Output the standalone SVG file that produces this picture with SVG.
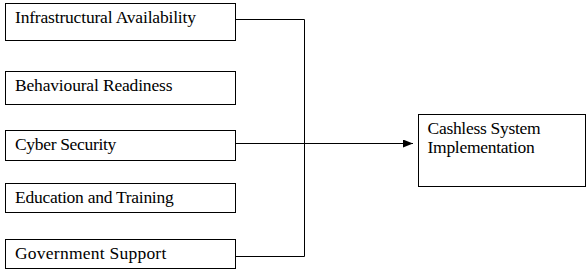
<svg xmlns="http://www.w3.org/2000/svg" width="587" height="272" viewBox="0 0 587 272">
<style>
.box{fill:#fff;stroke:#000;stroke-width:1}
.t{font-family:'Liberation Serif','Times New Roman','DejaVu Serif',serif;font-size:17.5px;fill:#000}
.c{fill:none;stroke:#000;stroke-width:1}
</style>
<defs>
<marker id="ah" markerWidth="10" markerHeight="8" refX="10" refY="4" orient="auto" markerUnits="userSpaceOnUse">
<path d="M0,0 L10,4 L0,8 Z" fill="#000"/>
</marker>
</defs>
<rect width="587" height="272" fill="#fff"/>
<g id="connectors">
<path class="c" d="M235,19.5 H304.5 V256.5 H235"/>
<path class="c" d="M235,143.5 H413" marker-end="url(#ah)"/>
</g>
<g id="n1"><rect class="box" x="5.5" y="3.5" width="230" height="37"/><text class="t" x="15" y="23" textLength="181" lengthAdjust="spacing">Infrastructural  Availability</text></g>
<g id="n2"><rect class="box" x="5.5" y="71.5" width="230" height="33"/><text class="t" x="15" y="91" textLength="157.5" lengthAdjust="spacing">Behavioural Readiness</text></g>
<g id="n3"><rect class="box" x="5.5" y="130.5" width="230" height="30"/><text class="t" x="15" y="149.5" textLength="101.3" lengthAdjust="spacing">Cyber Security</text></g>
<g id="n4"><rect class="box" x="5.5" y="183.5" width="230" height="29"/><text class="t" x="15" y="203.3" textLength="158.7" lengthAdjust="spacing">Education and Training</text></g>
<g id="n5"><rect class="box" x="5.5" y="239.5" width="230" height="29"/><text class="t" x="15" y="259" textLength="151.3" lengthAdjust="spacing">Government Support</text></g>
<g id="n6"><rect class="box" x="418.5" y="114.5" width="167" height="72"/><text class="t" x="427.5" y="134" textLength="113.2" lengthAdjust="spacing">Cashless System</text><text class="t" x="427.5" y="153" textLength="107.2" lengthAdjust="spacing">Implementation</text></g>
</svg>
